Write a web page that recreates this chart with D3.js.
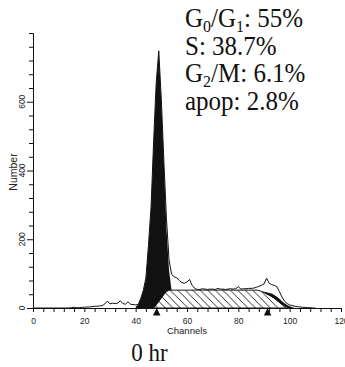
<!DOCTYPE html>
<html>
<head>
<meta charset="utf-8">
<script src="https://cdn.jsdelivr.net/npm/d3@7"></script>
<style>
  body { margin: 0; background: #fff; }
  svg { display: block; }
</style>
</head>
<body>
<script>
// histogram counts, one per channel 0..110
var channels = d3.range(0, 111);
var counts = [
  0, 0, 0, 0, 0, 0, 0, 0, 0, 0,
  0, 0, 0, 0, 0, 1, 2, 1, 1, 2,
  2, 3, 3, 4, 5, 5, 6, 7, 12, 20,
  12, 14, 13, 14, 21, 13, 11, 18, 11, 10,
  9, 10, 28, 52, 88, 185, 295, 485, 655, 748,
  605, 425, 260, 140, 98, 91, 88, 80, 74, 72,
  76, 83, 66, 57, 54, 54, 56, 55, 54, 55,
  55, 54, 57, 55, 55, 54, 55, 56, 55, 56,
  62, 55, 56, 56, 57, 57, 58, 60, 63, 66,
  70, 87, 72, 68, 66, 62, 48, 32, 20, 13,
  9, 7, 5, 4, 3, 2, 2, 1, 1, 0,
  0
];
// G0/G1 model peak (black)
var g1Channels = d3.range(40, 58);
var g1Values = [3, 10, 28, 50, 85, 180, 290, 480, 650, 745, 600, 420, 230, 110, 50, 20, 8, 0];
// S phase model (hatched)
var sChannels = d3.range(47, 101);
var sValues = [
  0, 9, 19, 29, 39, 48, 52, 52, 52, 52,
  52, 52, 52, 52, 52, 52, 52, 52, 52, 52,
  52, 52, 52, 52, 52, 52, 52, 52, 52, 52,
  52, 52, 52, 52, 52, 52, 52, 52, 52, 52,
  52, 51, 48, 45, 41, 37, 33, 28, 22, 16,
  11, 6, 2, 0
];
// G2/M model peak (black)
var g2Channels = d3.range(86, 103);
var g2Values = [30, 38, 44, 47, 47, 46, 44, 42, 38, 33, 27, 20, 14, 9, 5, 2, 0];
// peak markers under the axis
var markerChannels = [48.2, 91.4];

var xTicks = d3.range(0, 121, 4);
var xLabels = [0, 20, 40, 60, 80, 100, 120];
var yTicks = d3.range(0, 801, 40);
var yLabels = [0, 200, 400, 600];

var statLines = [
  [["G"], ["0", 1], ["/G"], ["1", 1], [": 55%"]],
  [["S: 38.7%"]],
  [["G"], ["2", 1], ["/M: 6.1%"]],
  [["apop: 2.8%"]]
];
var caption = "0 hr";

var w = 345, h = 367;
var x = d3.scaleLinear().domain([0, 120]).range([33, 341]);
var y = d3.scaleLinear().domain([0, 800]).range([308, 33]);

var svg = d3.select("body").append("svg")
    .attr("width", w)
    .attr("height", h);

var defs = svg.append("defs");
var pat = defs.append("pattern")
    .attr("id", "hatch")
    .attr("patternUnits", "userSpaceOnUse")
    .attr("width", 7.5)
    .attr("height", 7.5);
pat.append("rect").attr("width", 7.5).attr("height", 7.5).attr("fill", "#fff");
pat.append("path")
    .attr("d", "M0,0 L7.5,7.5 M-1,6.5 L1,8.5 M6.5,-1 L8.5,1")
    .attr("stroke", "#111")
    .attr("stroke-width", 0.9);

var area = function (xs, vs) {
  return d3.area()
      .x(function (d, i) { return x(xs[i]); })
      .y0(y(0))
      .y1(function (d) { return y(d); })(vs);
};

// G2 first, then G1, then S hatched on top of both
svg.append("path").attr("d", area(g2Channels, g2Values)).attr("fill", "#111");
svg.append("path").attr("d", area(g1Channels, g1Values)).attr("fill", "#111");
svg.append("path")
    .attr("d", area(sChannels, sValues))
    .attr("fill", "url(#hatch)")
    .attr("stroke", "#111")
    .attr("stroke-width", 1);

svg.append("path")
    .attr("d", d3.line()
      .x(function (d, i) { return x(channels[i]); })
      .y(function (d) { return y(d); })(counts))
    .attr("fill", "none")
    .attr("stroke", "#111")
    .attr("stroke-width", 1);

// axes
var xAxis = d3.axisBottom(x)
    .tickValues(xTicks)
    .tickSizeOuter(0)
    .tickSize(4)
    .tickPadding(6)
    .tickFormat(function (d) { return xLabels.indexOf(d) >= 0 ? d : ""; });
var gx = svg.append("g")
    .attr("transform", "translate(0," + y(0) + ")")
    .call(xAxis);
gx.selectAll("text")
    .attr("font-family", "Liberation Sans, Arial, sans-serif")
    .attr("font-size", 8.5)
    .attr("fill", "#222");

var yAxis = d3.axisLeft(y)
    .tickValues(yTicks)
    .tickSizeOuter(0)
    .tickSize(4)
    .tickFormat("");
var gy = svg.append("g")
    .attr("transform", "translate(" + x(0) + ",0)")
    .call(yAxis);
gy.selectAll(".tick line")
    .attr("x2", function (d) { return yLabels.indexOf(d) >= 0 ? -6 : -4; });

svg.selectAll("path.domain, .tick line").attr("stroke", "#111");

svg.append("g").selectAll("text")
    .data(yLabels)
    .enter().append("text")
    .attr("transform", function (d) { return "translate(25," + y(d) + ") rotate(-90)"; })
    .attr("text-anchor", "middle")
    .attr("font-family", "Liberation Sans, Arial, sans-serif")
    .attr("font-size", 8.5)
    .attr("fill", "#222")
    .text(function (d) { return d; });

svg.append("text")
    .attr("transform", "translate(16.5,172) rotate(-90)")
    .attr("text-anchor", "middle")
    .attr("font-family", "Liberation Sans, Arial, sans-serif")
    .attr("font-size", 10.5)
    .attr("fill", "#222")
    .text("Number");

svg.append("text")
    .attr("x", x(60))
    .attr("y", 334)
    .attr("text-anchor", "middle")
    .attr("font-family", "Liberation Sans, Arial, sans-serif")
    .attr("font-size", 9.5)
    .attr("fill", "#222")
    .text("Channels");

// triangle markers
svg.append("g").selectAll("path")
    .data(markerChannels)
    .enter().append("path")
    .attr("d", function (d) {
      var cx = x(d);
      return "M" + (cx - 3.8) + "," + 315.5 + "L" + (cx + 3.8) + "," + 315.5 + "L" + cx + "," + 308 + "Z";
    })
    .attr("fill", "#111");

// phase percentages (scan is slightly stretched vertically)
var stats = svg.append("g")
    .attr("font-family", "Liberation Serif, Times New Roman, serif")
    .attr("font-size", 25)
    .attr("fill", "#111");
statLines.forEach(function (parts, i) {
  var t = stats.append("text")
      .attr("transform", "translate(185," + (27 + i * 27.5) + ") scale(1,1.1)");
  var shifted = false;
  parts.forEach(function (p) {
    var s = t.append("tspan").text(p[0]);
    if (p[1]) {
      s.attr("font-size", 16).attr("dy", 4.5);
      shifted = true;
    } else if (shifted) {
      s.attr("dy", -4.5);
      shifted = false;
    }
  });
});

svg.append("text")
    .attr("transform", "translate(149.5,361) scale(1,1.1)")
    .attr("text-anchor", "middle")
    .attr("font-family", "Liberation Serif, Times New Roman, serif")
    .attr("font-size", 23)
    .attr("fill", "#111")
    .text(caption);
</script>
</body>
</html>
